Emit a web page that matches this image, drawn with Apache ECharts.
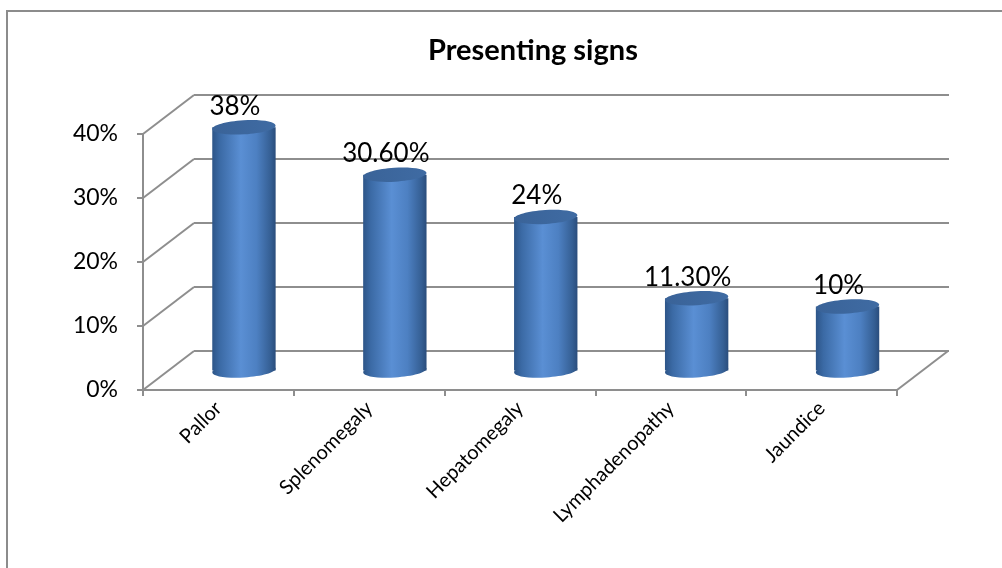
<!DOCTYPE html>
<html>
<head>
<meta charset="utf-8">
<title>Presenting signs</title>
<script src="https://cdn.jsdelivr.net/npm/echarts@6/dist/echarts.min.js"></script>
<style>
  html, body { margin: 0; padding: 0; background: #fff; }
  #chart { width: 1002px; height: 568px; }
</style>
</head>
<body>
<div id="chart"></div>
<script>
// data
const categories = ['Pallor', 'Splenomegaly', 'Hepatomegaly', 'Lymphadenopathy', 'Jaundice']
const values = [0.38, 0.306, 0.24, 0.113, 0.10]
const valueLabels = ['38%', '30.60%', '24%', '11.30%', '10%']
const yTicks = [0, 0.1, 0.2, 0.3, 0.4]

const FONT = 'Lato, "Open Sans", sans-serif'
const GRID_COLOR = '#8e8e8e'
// depth offset front -> back wall (px)
const DX = 51
const DY = -39
const TILT = 0.06 // slight perspective tilt of the cylinder ends

let chart = echarts.init(document.getElementById('chart'))

// cylinder shading
function bodyGrad () {
  return new echarts.graphic.LinearGradient(0, 0, 1, 0, [
    {offset: 0, color: '#2d5588'},
    {offset: 0.12, color: '#3b6aa5'},
    {offset: 0.45, color: '#5a8fd4'},
    {offset: 0.7, color: '#4d80c2'},
    {offset: 0.92, color: '#355f94'},
    {offset: 1, color: '#2a4d7c'}
  ])
}
function topGrad () {
  return new echarts.graphic.LinearGradient(0, 0, 1, 0, [
    {offset: 0, color: '#3a6398'},
    {offset: 1, color: '#3f6ba3'}
  ])
}

let option = {
  animation: false,
  title: {
    text: 'Presenting signs',
    left: 423,
    top: 31,
    textStyle: {fontFamily: FONT, fontSize: 29, fontWeight: 'bold', color: '#000'}
  },
  graphic: [{
    type: 'rect',
    shape: {x: 7, y: 11, width: 1010, height: 600},
    style: {fill: 'none', stroke: '#8c8c8c', lineWidth: 2},
    silent: true
  }],
  grid: [
    // front plane (axes and labels)
    {left: 143, top: 134, width: 754, height: 256},
    // back wall (gridlines)
    {left: 194, top: 95, width: 755, height: 256},
    // middle plane (cylinders)
    {left: 168.5, top: 114.5, width: 754.5, height: 256}
  ],
  xAxis: [
    {
      gridIndex: 0,
      type: 'category',
      data: categories,
      boundaryGap: true,
      axisLine: {show: true, lineStyle: {color: GRID_COLOR, width: 2}},
      axisTick: {show: true, length: 6, lineStyle: {color: GRID_COLOR, width: 2}},
      axisLabel: {rotate: 45, margin: 15, color: '#000', fontFamily: FONT, fontSize: 20}
    },
    {gridIndex: 1, type: 'category', data: categories, show: false},
    {gridIndex: 2, type: 'category', data: categories, show: false}
  ],
  yAxis: [
    {
      gridIndex: 0,
      type: 'value',
      min: 0,
      max: 0.4,
      interval: 0.1,
      axisLine: {show: true, lineStyle: {color: GRID_COLOR, width: 2}},
      axisTick: {show: true, length: 6, lineStyle: {color: GRID_COLOR, width: 2}},
      splitLine: {show: false},
      axisLabel: {
        margin: 25,
        color: '#000',
        fontFamily: FONT,
        fontSize: 23,
        formatter: function (v) { return Math.round(v * 100) + '%' }
      }
    },
    {
      gridIndex: 1,
      type: 'value',
      min: 0,
      max: 0.4,
      interval: 0.1,
      axisLine: {show: false},
      axisTick: {show: false},
      axisLabel: {show: false},
      splitLine: {show: true, lineStyle: {color: GRID_COLOR, width: 2}}
    },
    {gridIndex: 2, type: 'value', min: 0, max: 0.4, interval: 0.1, show: false, splitLine: {show: false}}
  ],
  series: [
    {
      // side wall and floor diagonals
      type: 'custom',
      xAxisIndex: 0,
      yAxisIndex: 0,
      z: 1,
      silent: true,
      data: yTicks.map(function (v) { return [0, v] }),
      renderItem: function (params, api) {
        let cs = params.coordSys
        let y = api.coord([0, api.value(1)])[1]
        let lineStyle = {stroke: GRID_COLOR, lineWidth: 2}
        let children = [{
          type: 'line',
          shape: {x1: cs.x, y1: y, x2: cs.x + DX, y2: y + DY},
          style: lineStyle
        }]
        if (api.value(1) === 0) {
          children.push({
            type: 'line',
            shape: {x1: cs.x + cs.width, y1: y, x2: cs.x + cs.width + DX, y2: y + DY},
            style: lineStyle
          })
        }
        return {type: 'group', children: children}
      }
    },
    {
      // cylinders
      type: 'custom',
      xAxisIndex: 2,
      yAxisIndex: 2,
      z: 5,
      data: values.map(function (v, i) { return [i, v] }),
      renderItem: function (params, api) {
        let i = api.value(0)
        let top = api.coord([i, api.value(1)])
        let base = api.coord([i, 0])
        let rx = api.size([1, 0])[0] * 0.21
        let ry = 7
        let cx = top[0]
        return {
          type: 'group',
          children: [
            {
              type: 'ellipse',
              shape: {cx: cx, cy: base[1], rx: rx, ry: ry},
              rotation: TILT,
              originX: cx,
              originY: base[1],
              style: {fill: bodyGrad()}
            },
            {
              type: 'rect',
              shape: {x: cx - rx, y: top[1], width: rx * 2, height: base[1] - top[1]},
              style: {fill: bodyGrad()}
            },
            {
              type: 'ellipse',
              shape: {cx: cx, cy: top[1], rx: rx, ry: ry},
              rotation: TILT,
              originX: cx,
              originY: top[1],
              style: {fill: topGrad()}
            },
            {
              type: 'text',
              style: {
                text: valueLabels[params.dataIndex],
                x: cx - 9,
                y: top[1] - ry - 1,
                align: 'center',
                verticalAlign: 'bottom',
                fill: '#000',
                font: '26px ' + FONT
              }
            }
          ]
        }
      }
    }
  ]
}

chart.setOption(option)
</script>
</body>
</html>
